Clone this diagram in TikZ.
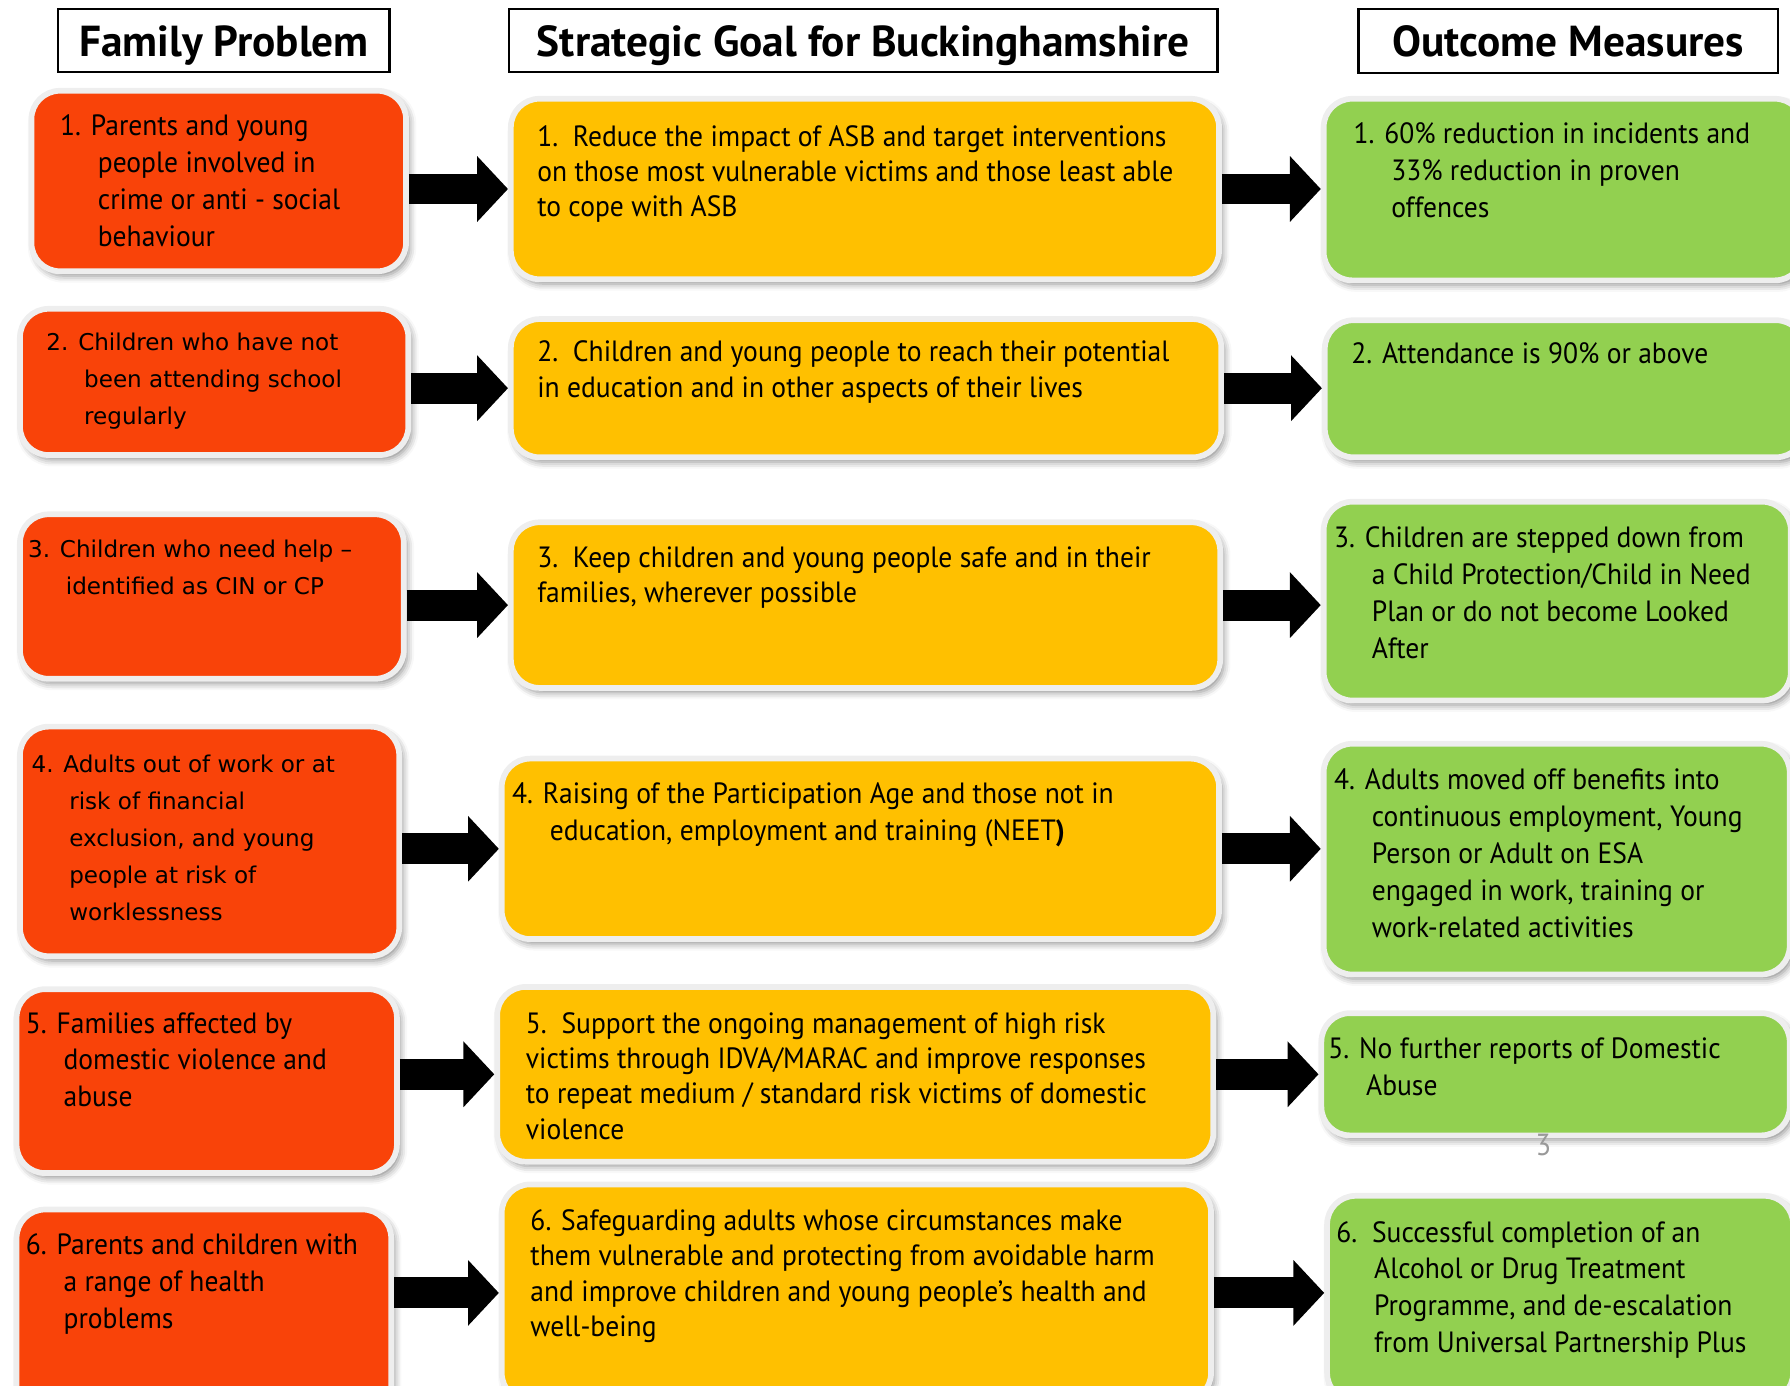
\documentclass[tikz,border=0pt]{standalone}
\usepackage{fontspec}
\setmainfont{PT Sans}[FakeStretch=0.94]
\newfontfamily\headfont{PT Sans}
\newfontfamily\widefont{DejaVu Sans}
\usepackage{tikz}
\usetikzlibrary{arrows.meta,shadows.blur}
\definecolor{problemred}{RGB}{249,67,9}
\definecolor{goalamber}{RGB}{255,192,0}
\definecolor{outcomegreen}{RGB}{146,208,80}
\definecolor{rimgray}{RGB}{238,238,238}
\newcommand{\hangin}{\hspace*{0.33cm}}
\tikzset{
  headbox/.style={draw=black,line width=0.6pt,fill=white,inner sep=0pt,anchor=north west,text depth=0pt,
    font=\headfont\fontsize{10.8}{12}\selectfont\bfseries},
  cardbox/.style={draw=rimgray,line width=0.05cm,rounded corners=0.25cm,anchor=north west,inner sep=0pt,
    blur shadow={shadow xshift=0.03cm,shadow yshift=-0.04cm,shadow blur radius=0.06cm,shadow opacity=45}},
  problembox/.style={cardbox,fill=problemred},
  goalbox/.style={cardbox,fill=goalamber},
  outcomebox/.style={cardbox,fill=outcomegreen},
  cardtext/.style={anchor=north west,inner sep=0pt,align=left,font=\fontsize{7.3}{9.2}\selectfont},
  goaltext/.style={cardtext,font=\fontsize{7.3}{8.8}\selectfont},
  widetext/.style={cardtext,font=\widefont\fontsize{5.75}{9.2}\selectfont},
  blockarrow/.style={line width=0.27cm,-{Triangle[length=0.27cm,width=0.56cm]}},
  pagenum/.style={text=black!40,font=\fontsize{7.6}{9}\selectfont}
}
\begin{document}
\begin{tikzpicture}[x=0.01cm,y=-0.01cm]
  \clip (0,0) rectangle (1568,1214);
  % column heads
  \node[headbox,minimum width=2.9cm,minimum height=0.55cm] (headprob) at (50,7) {Family Problem};
  \node[headbox,minimum width=6.2cm,minimum height=0.55cm] (headgoal) at (445,7) {Strategic Goal for Buckinghamshire};
  \node[headbox,minimum width=3.67cm,minimum height=0.56cm] (headout) at (1189,7) {Outcome Measures};
  % family problems
  \node[problembox,minimum width=3.28cm,minimum height=1.58cm] (prob1) at (25,77) {};
  \node[problembox,minimum width=3.4cm,minimum height=1.28cm] (prob2) at (15,268) {};
  \node[problembox,minimum width=3.36cm,minimum height=1.44cm] (prob3) at (15,448) {};
  \node[problembox,minimum width=3.32cm,minimum height=2.01cm] (prob4) at (15,634) {};
  \node[problembox,minimum width=3.33cm,minimum height=1.61cm] (prob5) at (12,864) {};
  \node[problembox,minimum width=3.28cm,minimum height=1.8cm] (prob6) at (12,1057) {};
  \node[cardtext] (prob1txt) at (52,100) {1. Parents and young\\\hangin people involved in\\\hangin crime or anti - social\\\hangin behaviour};
  \node[widetext] (prob2txt) at (40,291) {2. Children who have not\\\hangin been attending school\\\hangin regularly};
  \node[widetext] (prob3txt) at (24,472) {3. Children who need help –\\\hangin identified as CIN or CP};
  \node[widetext] (prob4txt) at (27,661) {4. Adults out of work or at\\\hangin risk of financial\\\hangin exclusion, and young\\\hangin people at risk of\\\hangin worklessness};
  \node[cardtext] (prob5txt) at (22,886) {5. Families affected by\\\hangin domestic violence and\\\hangin abuse};
  \node[cardtext] (prob6txt) at (22,1080) {6. Parents and children with\\\hangin a range of health\\\hangin problems};
  % strategic goals
  \node[goalbox,minimum width=6.2cm,minimum height=1.58cm] (goal1) at (445,84) {};
  \node[goalbox,minimum width=6.22cm,minimum height=1.21cm] (goal2) at (445,277) {};
  \node[goalbox,minimum width=6.21cm,minimum height=1.45cm] (goal3) at (445,455) {};
  \node[goalbox,minimum width=6.28cm,minimum height=1.58cm] (goal4) at (437,662) {};
  \node[goalbox,minimum width=6.27cm,minimum height=1.53cm] (goal5) at (433,862) {};
  \node[goalbox,minimum width=6.21cm,minimum height=1.9cm] (goal6) at (437,1035) {};
  \node[goaltext] (goal1txt) at (470,109) {1.\ \ Reduce the impact of ASB and target interventions\\on those most vulnerable victims and those least able\\to cope with ASB};
  \node[goaltext] (goal2txt) at (470,298) {2.\ \ Children and young people to reach their potential\\in education and in other aspects of their lives};
  \node[goaltext] (goal3txt) at (470,478) {3.\ \ Keep children and young people safe and in their\\families, wherever possible};
  \node[cardtext] (goal4txt) at (448,685) {4. Raising of the Participation Age and those not in\\\hangin education, employment and training (NEET\textbf{)}};
  \node[goaltext] (goal5txt) at (460,886) {5.\ \ Support the ongoing management of high risk\\victims through IDVA/MARAC and improve responses\\to repeat medium / standard risk victims of domestic\\violence};
  \node[goaltext] (goal6txt) at (464,1059) {6. Safeguarding adults whose circumstances make\\them vulnerable and protecting from avoidable harm\\and improve children and young people's health and\\well-being};
  % outcome measures
  \node[outcomebox,minimum width=4.2cm,minimum height=1.59cm] (out1) at (1157,84) {};
  \node[outcomebox,minimum width=4.2cm,minimum height=1.2cm] (out2) at (1158,278) {};
  \node[outcomebox,minimum width=4.09cm,minimum height=1.74cm] (out3) at (1157,437) {};
  \node[outcomebox,minimum width=4.08cm,minimum height=2.02cm] (out4) at (1157,649) {};
  \node[outcomebox,minimum width=4.1cm,minimum height=1.07cm] (out5) at (1155,885) {};
  \node[outcomebox,minimum width=4.08cm,minimum height=1.8cm] (out6) at (1160,1045) {};
  \node[cardtext] (out1txt) at (1185,107) {1. 60\% reduction in incidents and\\\hangin 33\% reduction in proven\\\hangin offences};
  \node[cardtext] (out2txt) at (1183,299) {2. Attendance is 90\% or above};
  \node[cardtext] (out3txt) at (1168,461) {3. Children are stepped down from\\\hangin a Child Protection/Child in Need\\\hangin Plan or do not become Looked\\\hangin After};
  \node[cardtext] (out4txt) at (1168,673) {4. Adults moved off benefits into\\\hangin continuous employment, Young\\\hangin Person or Adult on ESA\\\hangin engaged in work, training or\\\hangin work-related activities};
  \node[cardtext] (out5txt) at (1163,908) {5. No further reports of Domestic\\\hangin Abuse};
  \node[cardtext] (out6txt) at (1170,1069) {6.\ \ Successful completion of an\\\hangin Alcohol or Drug Treatment\\\hangin Programme, and de-escalation\\\hangin from Universal Partnership Plus};
  \node[pagenum] (pageno) at (1352,1003) {3};
  % arrows problem -> goal -> outcome
  \foreach \row in {1,...,6}{
    \draw[blockarrow] (prob\row.east |- goal\row.west) -- (goal\row.west);
    \draw[blockarrow] (goal\row.east) -- (goal\row.east -| out\row.west);
  }
\end{tikzpicture}
\end{document}
